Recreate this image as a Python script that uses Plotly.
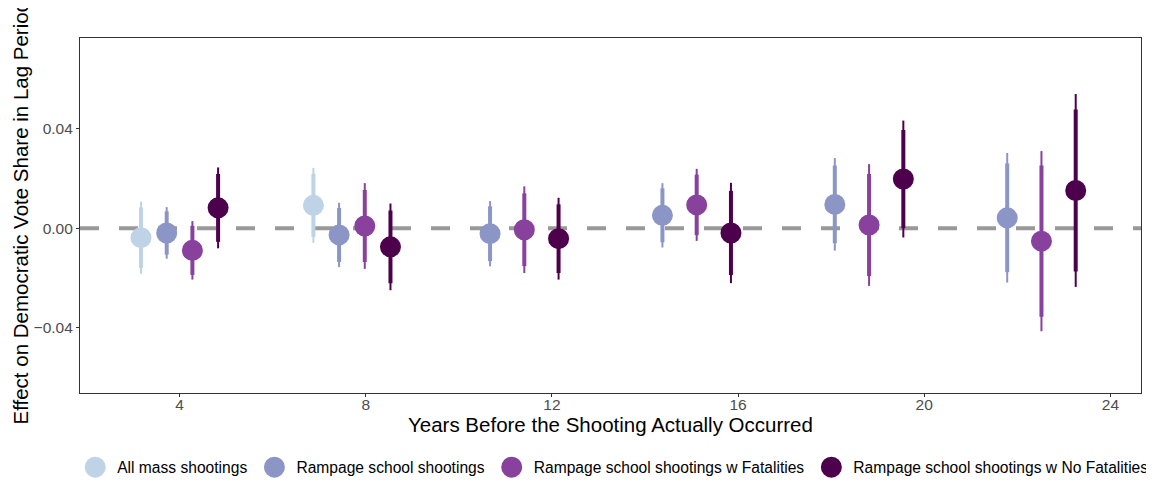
import plotly.graph_objects as go

# ---- data ----
lags = [4, 8, 12, 16, 20, 24]
tick_labels = [4, 8, 12, 16, 20, 24]
series = [
    "All mass shootings",
    "Rampage school shootings",
    "Rampage school shootings w Fatalities",
    "Rampage school shootings w No Fatalities",
]
colors = ["#bfd3e6", "#8c96c6", "#88419d", "#4d004b"]

est_all = [-0.0038, 0.0092, None, None, None, None]
se_all = [0.0074, 0.0077, None, None, None, None]
est_rampage = [-0.0019, -0.0027, -0.0022, 0.0052, 0.0096, 0.0042]
se_rampage = [0.0053, 0.0066, 0.0067, 0.0066, 0.0095, 0.0133]
est_fatal = [-0.0089, 0.0009, -0.0006, 0.0094, 0.0013, -0.0052]
se_fatal = [0.0060, 0.0088, 0.0089, 0.0074, 0.0125, 0.0185]
est_nofatal = [0.0082, -0.0075, -0.0042, -0.0019, 0.0198, 0.0152]
se_nofatal = [0.0083, 0.0089, 0.0084, 0.0103, 0.0120, 0.0198]

estimates = [est_all, est_rampage, est_fatal, est_nofatal]
ses = [se_all, se_rampage, se_fatal, se_nofatal]

x_title = "Years Before the Shooting Actually Occurred"
y_title = "Effect on Democratic Vote Share in Lag Period"

Z95 = 1.96
Z90 = 1.645
DODGE = 2.385
TICK_STRETCH = 1.08

# dodge positions per lag group
xpos = [[None] * len(lags) for _ in series]
for i, lag in enumerate(lags):
    present = [s for s in range(len(series)) if estimates[s][i] is not None]
    n = len(present)
    for k, s in enumerate(present):
        xpos[s][i] = lag + DODGE * ((k + 0.5) / n - 0.5)

fig = go.Figure()

fig.add_shape(type="line", xref="paper", yref="y", x0=0, x1=1, y0=0, y1=0,
              line=dict(color="#999999", width=4, dash="19px,20px"), layer="below")

for s, name in enumerate(series):
    xs95, ys95, xs90, ys90, xm, ym = [], [], [], [], [], []
    for i in range(len(lags)):
        e = estimates[s][i]
        if e is None:
            continue
        se = ses[s][i]
        x = xpos[s][i]
        xs95 += [x, x, None]
        ys95 += [e - Z95 * se, e + Z95 * se, None]
        xs90 += [x, x, None]
        ys90 += [e - Z90 * se, e + Z90 * se, None]
        xm.append(x)
        ym.append(e)
    fig.add_trace(go.Scatter(x=xs95, y=ys95, mode="lines", showlegend=False,
                             line=dict(color=colors[s], width=2), hoverinfo="skip"))
    fig.add_trace(go.Scatter(x=xs90, y=ys90, mode="lines", showlegend=False,
                             line=dict(color=colors[s], width=4), hoverinfo="skip"))
    fig.add_trace(go.Scatter(x=xm, y=ym, mode="markers", name=name,
                             marker=dict(color=colors[s], size=16,
                                         line=dict(color=colors[s], width=5))))

tickvals = [4 + (t - 4) * TICK_STRETCH for t in tick_labels]

fig.add_annotation(text=x_title, xref="paper", yref="paper", x=0.5, y=0,
                   xanchor="center", yanchor="middle", yshift=-31, showarrow=False,
                   font=dict(size=20.5, color="black"))
fig.add_annotation(text=y_title, xref="paper", yref="paper", x=0, y=0.5,
                   xanchor="center", yanchor="middle", xshift=-60, yshift=3,
                   textangle=-90, showarrow=False,
                   font=dict(size=20.5, color="black"))

# page has an 8px body margin: figure is sized/offset so the panel lands where the reference has it
fig.update_layout(
    width=1146, height=472,
    margin=dict(l=72, r=13, t=30, b=87, autoexpand=False),
    paper_bgcolor="white", plot_bgcolor="white",
    font=dict(family="Liberation Sans, Arial, sans-serif", color="black"),
    legend=dict(orientation="h", x=-0.0064, xanchor="left", y=-0.21, yanchor="middle",
                font=dict(size=15.6, color="black"), itemsizing="trace", itemwidth=34),
    xaxis=dict(range=[1.69, 26.31], tickvals=tickvals, ticktext=[str(t) for t in tick_labels],
               showgrid=False, zeroline=False, showline=True, mirror=True,
               linecolor="#333333", linewidth=1.1, automargin=False,
               ticks="outside", ticklen=3, tickcolor="#333333", tickwidth=1,
               ticklabelstandoff=-6,
               tickfont=dict(size=15.5, color="#4d4d4d")),
    yaxis=dict(range=[-0.0663, 0.07655], tickvals=[-0.04, 0.0, 0.04],
               ticktext=["\u22120.04", "0.00", "0.04"],
               showgrid=False, zeroline=False, showline=True, mirror=True,
               linecolor="#333333", linewidth=1.1, automargin=False,
               ticks="outside", ticklen=3, tickcolor="#333333", tickwidth=1,
               tickfont=dict(size=15.5, color="#4d4d4d")),
)

fig.write_html("out.html")
